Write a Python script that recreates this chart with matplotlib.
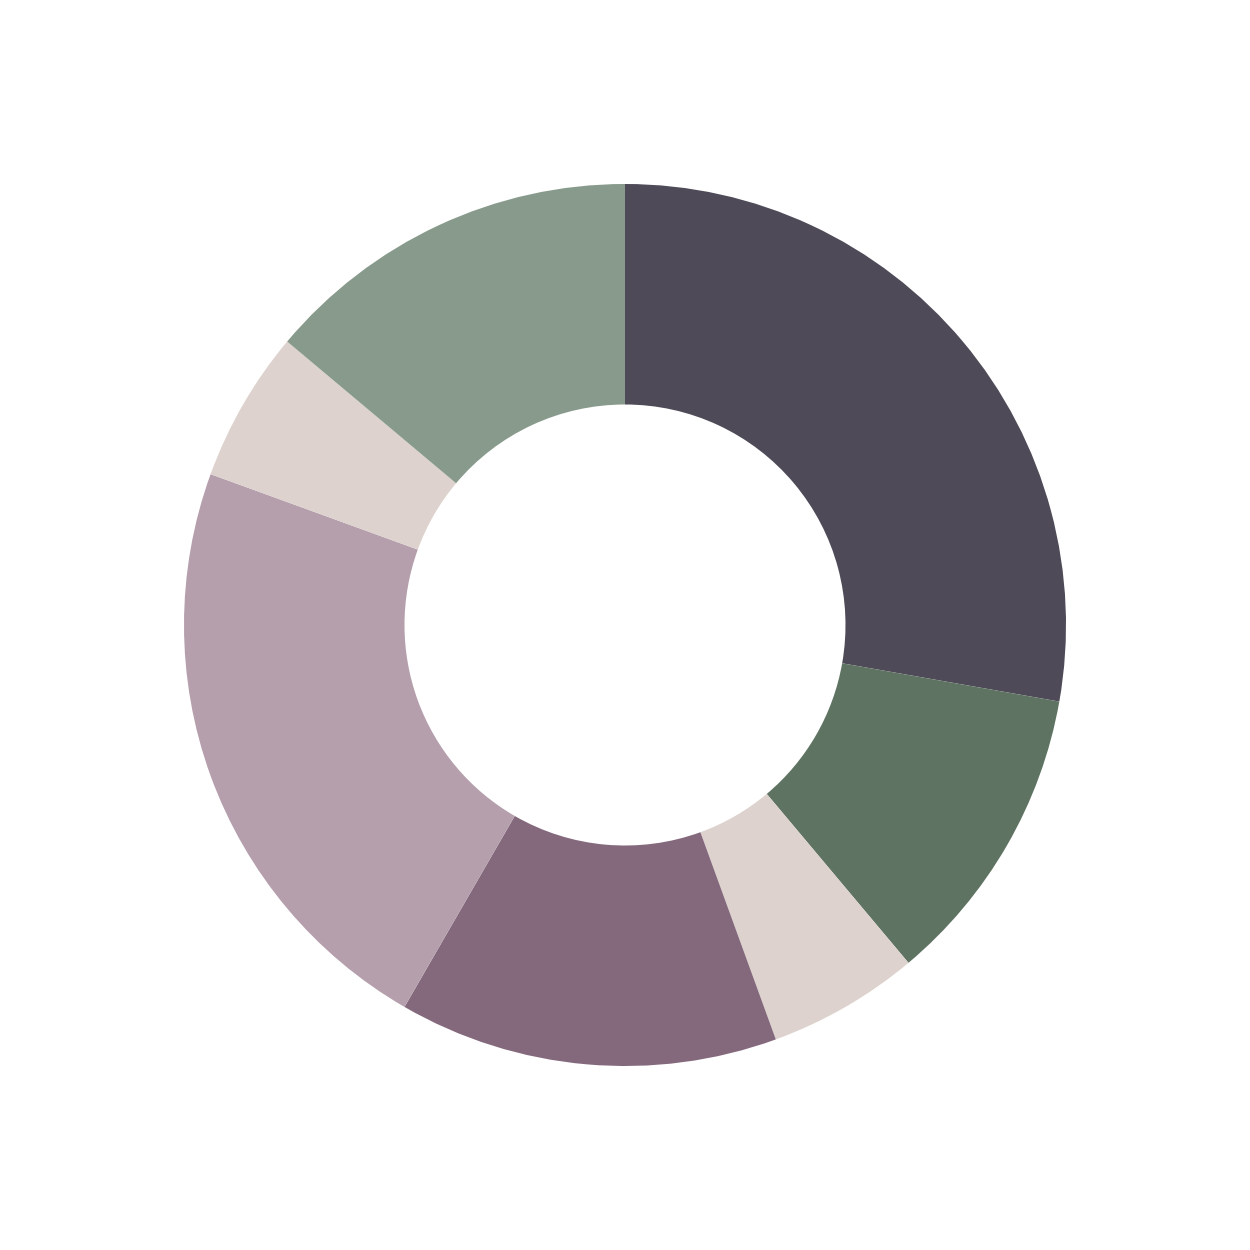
import matplotlib
matplotlib.use("Agg")
import matplotlib.pyplot as plt

# Slice values (clockwise from top)
values = [10, 4, 2, 5, 8, 2, 5]
colors = ["#4e4a57", "#5f7363", "#ddd2cd", "#84697d", "#b59fac", "#ddd2cd", "#879a8b"]

fig = plt.figure(figsize=(12.5, 12.5), dpi=100)
ax = fig.add_axes([0, 0, 1, 1])
ax.pie(values, colors=colors, startangle=90, counterclock=False,
       radius=1, wedgeprops=dict(width=0.5, linewidth=0))
lim = 625 / 441
ax.set_xlim(-lim, lim)
ax.set_ylim(-lim, lim)
ax.set_aspect("equal")
ax.axis("off")
fig.savefig("out.png", dpi=100, facecolor="white")
